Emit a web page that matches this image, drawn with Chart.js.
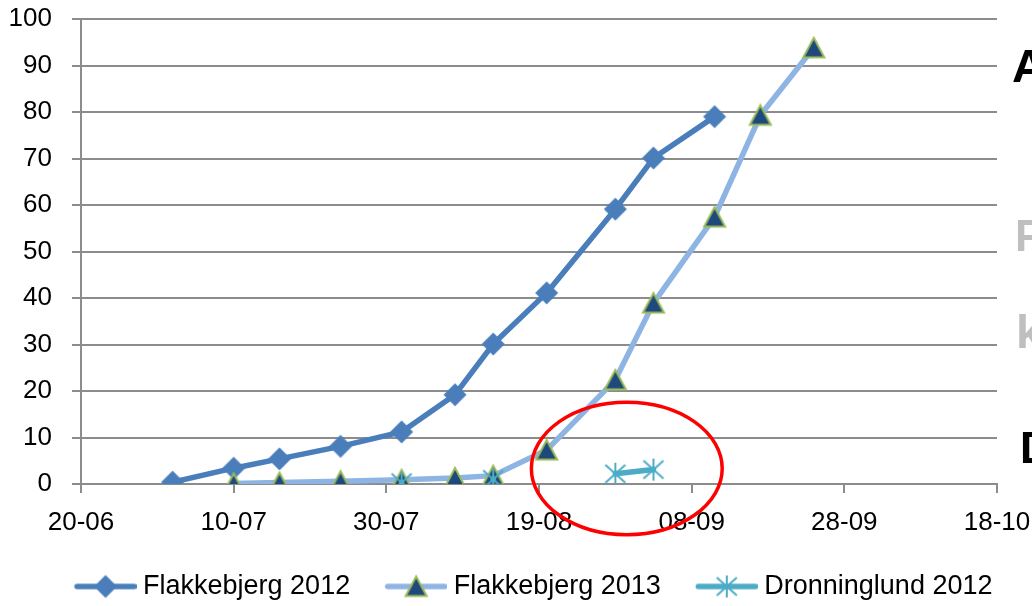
<!DOCTYPE html>
<html>
<head>
<meta charset="utf-8">
<script src="https://cdn.jsdelivr.net/npm/chart.js@4.4.0/dist/chart.umd.min.js"></script>
<style>
  html, body { margin: 0; padding: 0; background: #fff; overflow: hidden; }
  #wrap { position: relative; width: 1032px; height: 606px; overflow: hidden; }
  .side { position: absolute; font-family: "Liberation Sans", Arial, sans-serif; font-weight: bold; line-height: 1; white-space: nowrap; }
</style>
</head>
<body>
<div id="wrap">
  <canvas id="chart" width="1032" height="606"></canvas>
  <div class="side" style="left:1012px; top:42px; font-size:47px; color:#000;">A</div>
  <div class="side" style="left:1015px; top:214px; font-size:44px; color:#bfbfbf;">F</div>
  <div class="side" style="left:1016px; top:308px; font-size:47px; color:#bfbfbf;">k</div>
  <div class="side" style="left:1020px; top:426px; font-size:44px; color:#000;">D</div>
</div>
<script>
  // dates are dd-mm, all series plotted on the same day/month axis
  const dates = ["02-07", "10-07", "16-07", "24-07", "01-08", "08-08", "13-08", "20-08", "29-08", "03-09", "11-09", "17-09", "24-09"];
  const flakkebjerg2012 = [0.4, 3.4, 5.4, 8.1, 11.2, 19.2, 30.1, 41.1, 59.1, 70.1, 79.0, null, null];
  const flakkebjerg2013 = [null, 0.1, 0.3, 0.6, 0.9, 1.3, 1.8, 7.3, 22.4, 38.9, 57.4, 79.3, 93.8];
  const dronninglund2012 = [null, null, null, null, 0.3, null, 1.0, null, 2.2, 3.1, null, null, null];
  const seriesNames = ["Flakkebjerg 2012", "Flakkebjerg 2013", "Dronninglund 2012"];
  const xTicks = ["20-06", "10-07", "30-07", "19-08", "08-09", "28-09", "18-10"];
  const yTicks = [0, 10, 20, 30, 40, 50, 60, 70, 80, 90, 100];

  // red ring drawn round the Dronninglund points (data units)
  const ringFrom = "18-08";
  const ringTo = "12-09";
  const ringLow = -10.9;
  const ringHigh = 17.6;

  const colors = ["#4A7EBB", "#8EB4E3", "#4BACC6"];
  const fontFamily = "'Liberation Sans', Arial, sans-serif";

  function dayNum(s) {
    const [d, m] = s.split("-").map(Number);
    return Date.UTC(2012, m - 1, d) / 864e5;
  }
  function dayLabel(n) {
    const dt = new Date(Math.round(n) * 864e5);
    return String(dt.getUTCDate()).padStart(2, "0") + "-" + String(dt.getUTCMonth() + 1).padStart(2, "0");
  }
  function points(values) {
    return dates.map((d, i) => ({ x: dayNum(d), y: values[i] }));
  }

  function makeCanvas(w, h, draw) {
    const c = document.createElement("canvas");
    c.width = w;
    c.height = h;
    draw(c.getContext("2d"), w, h);
    return c;
  }

  const diamond = makeCanvas(26, 26, (ctx) => {
    ctx.fillStyle = colors[0];
    ctx.beginPath();
    ctx.moveTo(13, 1.5);
    ctx.lineTo(24.5, 13);
    ctx.lineTo(13, 24.5);
    ctx.lineTo(1.5, 13);
    ctx.closePath();
    ctx.fill();
  });
  const triangle = makeCanvas(26, 24, (ctx) => {
    ctx.fillStyle = "#1F497D";
    ctx.strokeStyle = "#9BBB59";
    ctx.lineWidth = 2;
    ctx.beginPath();
    ctx.moveTo(13, 2);
    ctx.lineTo(23.5, 21.5);
    ctx.lineTo(2.5, 21.5);
    ctx.closePath();
    ctx.fill();
    ctx.stroke();
  });
  const asterisk = makeCanvas(24, 24, (ctx) => {
    ctx.strokeStyle = colors[2];
    ctx.lineWidth = 2;
    ctx.beginPath();
    ctx.moveTo(12, 1); ctx.lineTo(12, 23);
    ctx.moveTo(2, 3); ctx.lineTo(22, 21);
    ctx.moveTo(22, 3); ctx.lineTo(2, 21);
    ctx.stroke();
  });
  const markers = [diamond, triangle, asterisk];

  // legend sample: line with the marker in the middle
  function legendImage(color, marker) {
    return makeCanvas(104, 26, (ctx) => {
      ctx.strokeStyle = color;
      ctx.lineWidth = 5.5;
      ctx.lineCap = "round";
      ctx.beginPath();
      ctx.moveTo(44.5, 13);
      ctx.lineTo(101.5, 13);
      ctx.stroke();
      ctx.drawImage(marker, 73 - marker.width / 2, 13 - marker.height / 2);
    });
  }
  const legendImages = colors.map((c, i) => legendImage(c, markers[i]));

  const ringPlugin = {
    id: "ring",
    afterDraw(chart) {
      const { ctx, scales } = chart;
      const x1 = scales.x.getPixelForValue(dayNum(ringFrom));
      const x2 = scales.x.getPixelForValue(dayNum(ringTo));
      const y1 = scales.y.getPixelForValue(ringHigh);
      const y2 = scales.y.getPixelForValue(ringLow);
      ctx.save();
      ctx.strokeStyle = "#FF0000";
      ctx.lineWidth = 3.5;
      ctx.beginPath();
      ctx.ellipse((x1 + x2) / 2, (y1 + y2) / 2, (x2 - x1) / 2, (y2 - y1) / 2, 0, 0, Math.PI * 2);
      ctx.stroke();
      ctx.restore();
    },
  };

  const seriesData = [flakkebjerg2012, flakkebjerg2013, dronninglund2012];
  const datasets = seriesData.map((values, i) => ({
    label: seriesNames[i],
    data: points(values),
    borderColor: colors[i],
    backgroundColor: colors[i],
    borderWidth: 5.5,
    borderJoinStyle: "round",
    borderCapStyle: "round",
    pointStyle: markers[i],
    pointRadius: 11,
    pointHoverRadius: 11,
    tension: 0,
    order: 3 - i,
  }));

  const ctx = document.getElementById("chart").getContext("2d");
  new Chart(ctx, {
    type: "line",
    data: { datasets: datasets },
    plugins: [ringPlugin],
    options: {
      responsive: false,
      animation: false,
      layout: { padding: { top: 19, left: 0, right: 0, bottom: -4 } },
      plugins: {
        tooltip: { enabled: false },
        legend: {
          position: "bottom",
          labels: {
            usePointStyle: true,
            pointStyleWidth: 90,
            padding: 0,
            color: "#000",
            font: { family: fontFamily, size: 27 },
            generateLabels: (chart) =>
              chart.data.datasets.map((ds, i) => ({
                text: ds.label,
                pointStyle: legendImages[i],
                fillStyle: colors[i],
                strokeStyle: colors[i],
                lineWidth: 0,
                hidden: false,
                datasetIndex: i,
                fontColor: "#000",
              })),
          },
        },
      },
      scales: {
        x: {
          type: "linear",
          min: dayNum(xTicks[0]),
          max: dayNum(xTicks[xTicks.length - 1]),
          afterBuildTicks: (scale) => {
            scale.ticks = xTicks.map((t) => ({ value: dayNum(t) }));
          },
          afterFit: (scale) => {
            scale.height = 89;
            scale.paddingLeft = 0;
            scale.paddingRight = 35;
          },
          ticks: {
            callback: (v) => dayLabel(v),
            color: "#000",
            font: { family: fontFamily, size: 26 },
            padding: 14,
            maxRotation: 0,
            autoSkip: false,
          },
          grid: { drawOnChartArea: false, drawTicks: true, tickLength: 9, color: "#8c8c8c", lineWidth: 2 },
          border: { color: "#8c8c8c", width: 2 },
        },
        y: {
          min: 0,
          max: 100,
          afterBuildTicks: (scale) => {
            scale.ticks = yTicks.map((v) => ({ value: v }));
          },
          afterFit: (scale) => {
            scale.width = 81;
            scale.paddingTop = 0;
            scale.paddingBottom = 0;
          },
          ticks: {
            color: "#000",
            font: { family: fontFamily, size: 26 },
            padding: 20,
          },
          grid: { color: "#8c8c8c", lineWidth: 2, tickLength: 9 },
          border: { color: "#8c8c8c", width: 2 },
        },
      },
    },
  });
</script>
</body>
</html>
